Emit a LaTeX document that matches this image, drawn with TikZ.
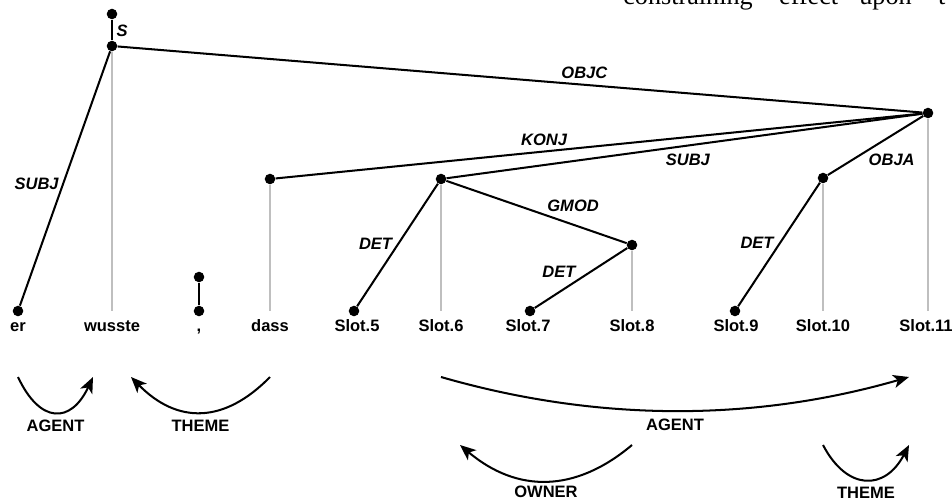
\documentclass[tikz,border=0pt]{standalone}
\usepackage{fontspec}
\setmainfont{Liberation Serif}
\setsansfont{Liberation Sans}
\usetikzlibrary{arrows.meta}

\begin{document}
\begin{tikzpicture}[
    x=0.02cm, y=-0.02cm,
    every node/.style={font=\sffamily\bfseries\fontsize{9.4}{11}\selectfont, inner sep=1pt},
    dot/.style={circle, fill, inner sep=0pt, minimum size=6pt},
    word/.style={anchor=base},
    dep/.style={line width=1.15pt},
    proj/.style={line width=1pt, black!25},
    rel/.style={font=\sffamily\bfseries\itshape\fontsize{9.4}{11}\selectfont},
    role/.style={-{Stealth[length=9pt, width=7.5pt, inset=2.4pt]}, line width=1.15pt}
]
\useasboundingbox (0,0) rectangle (952,500);
\node[anchor=base west, inner sep=0pt, font=\rmfamily\mdseries\fontsize{14.9}{18}\selectfont] (runon) at (623,5) {constraining\hspace{15pt}effect\hspace{12pt}upon\hspace{15pt}t};

\node[dot] (top) at (112,14) {};
\node[dot] (wusste) at (112,46) {};
\node[dot] (dass) at (270,179) {};
\node[dot] (slot6) at (441,179) {};
\node[dot] (slot8) at (632,245) {};
\node[dot] (slot10) at (823,178) {};
\node[dot] (slot11) at (928,113) {};
\node[dot] (er) at (18,311) {};
\node[dot] (comma) at (199,277) {};
\node[dot] (comma-b) at (199,311) {};
\node[dot] (slot5) at (354,311) {};
\node[dot] (slot7) at (530,311) {};
\node[dot] (slot9) at (735,311) {};

\node[word] (w-er) at (18,331) {er};
\node[word] (w-wusste) at (112,331) {wusste};
\node[word] (w-comma) at (199,331) {,};
\node[word] (w-dass) at (270,331) {dass};
\node[word] (w-slot5) at (357,331) {Slot.5};
\node[word] (w-slot6) at (441,331) {Slot.6};
\node[word] (w-slot7) at (528,331) {Slot.7};
\node[word] (w-slot8) at (632,331) {Slot.8};
\node[word] (w-slot9) at (736,331) {Slot.9};
\node[word] (w-slot10) at (823,331) {Slot.10};
\node[word] (w-slot11) at (926,331) {Slot.11};

\draw[proj] (wusste) -- (wusste |- er);
\draw[proj] (dass) -- (dass |- er);
\draw[proj] (slot6) -- (slot6 |- er);
\draw[proj] (slot8) -- (slot8 |- er);
\draw[proj] (slot10) -- (slot10 |- er);
\draw[proj] (slot11) -- (slot11 |- er);

\draw[dep] (top) -- node[rel, right=1pt, pos=0.55] {S} (wusste);
\draw[dep] (wusste) -- node[rel, left=1pt, pos=0.52] {SUBJ} (er);
\draw[dep] (wusste) -- node[rel, above=2pt, pos=0.58] {OBJC} (slot11);
\draw[dep] (dass) -- node[rel, above=2pt, pos=0.415] {KONJ} (slot11);
\draw[dep] (slot6) -- node[rel, below=3pt, pos=0.507] {SUBJ} (slot11);
\draw[dep] (slot10) -- node[rel, anchor=north west, pos=0.4] {OBJA} (slot11);
\draw[dep] (slot6) -- node[rel, left=2pt, pos=0.49] {DET} (slot5);
\draw[dep] (slot6) -- node[rel, anchor=south west, pos=0.545] {GMOD} (slot8);
\draw[dep] (slot8) -- node[rel, anchor=south east, pos=0.53] {DET} (slot7);
\draw[dep] (slot10) -- node[rel, left=2pt, pos=0.49] {DET} (slot9);
\draw[dep] (comma) -- (comma-b);

\coordinate (er-a) at (18,377);
\coordinate (wusste-al) at (93,377);
\coordinate (wusste-ar) at (131,377);
\coordinate (dass-a) at (270,377);
\coordinate (slot6-a) at (441,377);
\coordinate (slot11-a) at (909,377);
\coordinate (slot6-b) at (460,445);
\coordinate (slot8-b) at (632,445);
\coordinate (slot10-b) at (823,445);
\coordinate (slot11-b) at (909,445);

\draw[role] (er-a) .. controls +(22,47) and +(-22,47) .. node[below=3pt] {AGENT} (wusste-al);
\draw[role] (dass-a) .. controls +(-46,47) and +(46,47) .. node[below=3pt] {THEME} (wusste-ar);
\draw[role] (slot6-a) .. controls +(156,45) and +(-156,45) .. node[below=3pt] {AGENT} (slot11-a);
\draw[role] (slot8-b) .. controls +(-57,48) and +(57,48) .. node[below=1pt] {OWNER} (slot6-b);
\draw[role] (slot10-b) .. controls +(24,46) and +(-24,46) .. node[below=3pt] {THEME} (slot11-b);
\end{tikzpicture}
\end{document}
